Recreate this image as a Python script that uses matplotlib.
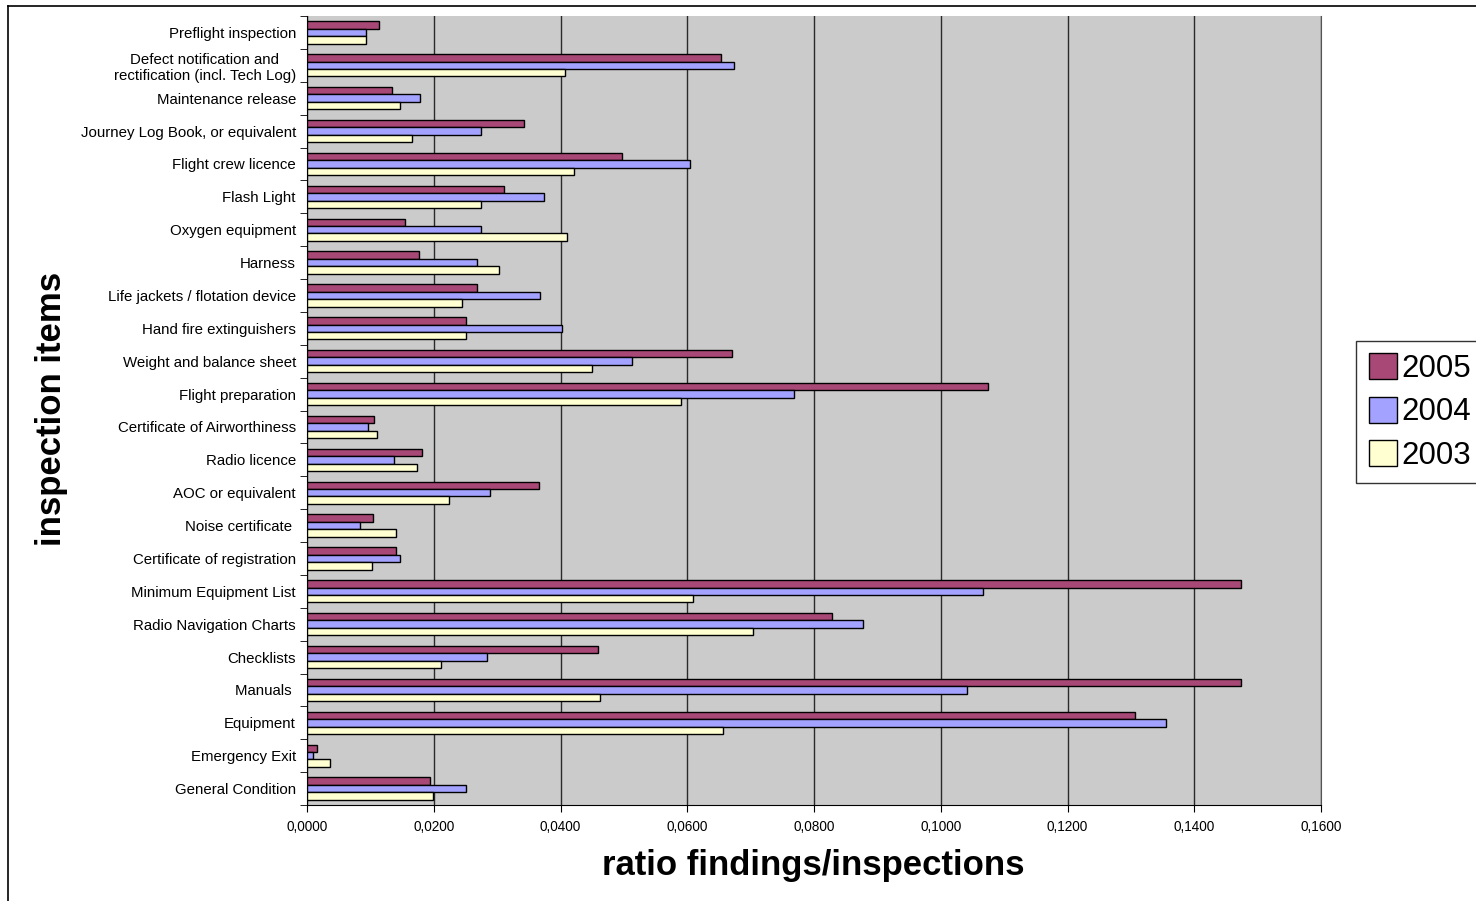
import matplotlib
matplotlib.use("Agg")
import matplotlib.pyplot as plt
from matplotlib.ticker import FuncFormatter, MultipleLocator, FixedLocator
from matplotlib.lines import Line2D
from matplotlib.patches import Patch
import numpy as np

plt.rcParams['font.family'] = ['Liberation Sans', 'DejaVu Sans']

# categories from top to bottom
items = [
    "Preflight inspection",
    "Defect notification and\nrectification (incl. Tech Log)",
    "Maintenance release",
    "Journey Log Book, or equivalent",
    "Flight crew licence",
    "Flash Light",
    "Oxygen equipment",
    "Harness",
    "Life jackets / flotation device",
    "Hand fire extinguishers",
    "Weight and balance sheet",
    "Flight preparation",
    "Certificate of Airworthiness",
    "Radio licence",
    "AOC or equivalent",
    "Noise certificate ",
    "Certificate of registration",
    "Minimum Equipment List",
    "Radio Navigation Charts",
    "Checklists",
    "Manuals ",
    "Equipment",
    "Emergency Exit",
    "General Condition",
]

y2005 = [0.0114, 0.0653, 0.0134, 0.0342, 0.0497, 0.0311, 0.0154, 0.0176,
         0.0269, 0.0251, 0.0671, 0.1074, 0.0106, 0.0181, 0.0366, 0.0104,
         0.0140, 0.1474, 0.0828, 0.0459, 0.1473, 0.1307, 0.0016, 0.0194]
y2004 = [0.0093, 0.0673, 0.0179, 0.0274, 0.0605, 0.0374, 0.0275, 0.0268,
         0.0367, 0.0402, 0.0513, 0.0768, 0.0097, 0.0138, 0.0288, 0.0083,
         0.0147, 0.1066, 0.0877, 0.0284, 0.1041, 0.1356, 0.0009, 0.0251]
y2003 = [0.0093, 0.0407, 0.0146, 0.0165, 0.0421, 0.0274, 0.0410, 0.0303,
         0.0244, 0.0251, 0.0449, 0.0590, 0.0111, 0.0173, 0.0224, 0.0140,
         0.0103, 0.0609, 0.0703, 0.0211, 0.0463, 0.0656, 0.0036, 0.0199]

years = ["2005", "2004", "2003"]
colors = ["#a84876", "#a3a3ff", "#ffffd2"]

W, H = 1476, 901
fig = plt.figure(figsize=(W / 100, H / 100), dpi=100)
ax = fig.add_axes([307 / W, 1 - 805 / H, (1321 - 307) / W, (805 - 16) / H])

pos = np.arange(len(items))
h = 0.225
for vals, off, c in zip([y2005, y2004, y2003], [-h, 0, h], colors):
    ax.barh(pos + off, vals, height=h, color=c, edgecolor="black",
            linewidth=1, zorder=3)

ax.set_facecolor("#cbcbcb")
ax.set_xlim(0, 0.16)
ax.set_ylim(len(items) - 0.5, -0.5)

ax.xaxis.set_major_locator(MultipleLocator(0.02))
ax.xaxis.set_major_formatter(FuncFormatter(lambda v, p: f"{v:.4f}".replace(".", ",")))
ax.grid(axis="x", color="#2a2a2a", linewidth=1, zorder=1)
ax.tick_params(axis="x", labelsize=9.8, length=5, direction="out", pad=6)

ax.set_yticks(pos)
ax.set_yticklabels(items, fontsize=10.8, multialignment="center")
ax.yaxis.set_minor_locator(FixedLocator(np.arange(-0.5, len(items), 1)))
ax.tick_params(axis="y", which="major", length=0, pad=8)
ax.tick_params(axis="y", which="minor", length=5, direction="out")

ax.spines["top"].set_visible(False)
ax.spines["right"].set_color("#555555")

fig.text(813 / W, 1 - 865 / H, "ratio findings/inspections", fontsize=25,
         fontweight="bold", ha="center", va="center")
fig.text(51 / W, 1 - 409 / H, "inspection items", fontsize=25,
         fontweight="bold", ha="center", va="center", rotation=90)

# chart area border
fig.add_artist(Line2D([8 / W, 8 / W], [0, 1 - 6 / H], color="black", lw=1.2))
fig.add_artist(Line2D([8 / W, 1], [1 - 6 / H, 1 - 6 / H], color="black", lw=1.2))

handles = [Patch(facecolor=c, edgecolor="black", linewidth=1) for c in colors]
leg = fig.legend(handles, years, loc="upper left",
                 bbox_to_anchor=(1356 / W, 1 - 341 / H), fontsize=22.5,
                 frameon=True, fancybox=False, handlelength=0.9,
                 handleheight=0.9, handletextpad=0.15, labelspacing=0.4,
                 borderpad=0.4, borderaxespad=0)
leg.get_frame().set_edgecolor("black")
leg.get_frame().set_linewidth(1)

fig.savefig("out.png", dpi=100)
